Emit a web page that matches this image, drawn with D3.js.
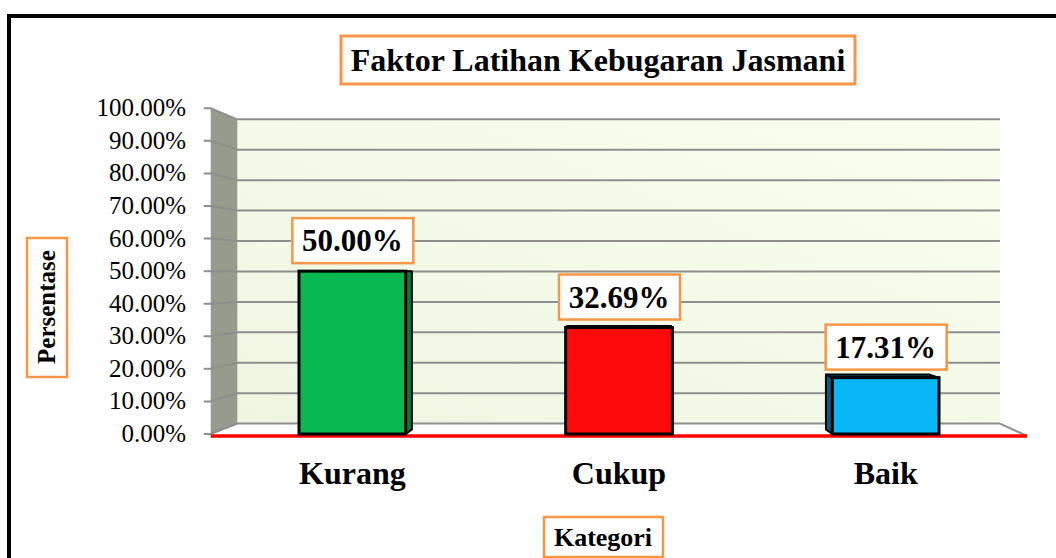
<!DOCTYPE html>
<html>
<head>
<meta charset="utf-8">
<script src="https://cdn.jsdelivr.net/npm/d3@7"></script>
<style>
	body { margin: 0; background: #fff; }
	svg text { font-family: "Times New Roman", "Liberation Serif", Times, serif; }
</style>
</head>
<body>
<div id="chart"></div>
<script>
// data
var kategori = ['Kurang', 'Cukup', 'Baik'];
var persen = [0.5, 0.3269, 0.1731];
var yTicks = [0, 0.1, 0.2, 0.3, 0.4, 0.5, 0.6, 0.7, 0.8, 0.9, 1.0];
var judul = 'Faktor Latihan Kebugaran Jasmani';
var sumbuY = 'Persentase';
var sumbuX = 'Kategori';

var barColor = ['#08b850', '#ff0a0a', '#0ab6f6'];
var sideColor = ['#0b7a38', '#a00000', '#0b5a7e'];
var orange = '#f79646';

var W = 1056, H = 558;
// bidang depan kotak 3D dan titik hilang
var front = { left: 210.7, right: 1027, top: 108.3, bottom: 434 };
var vp = { x: 616, y: 276 };
var shrink = 0.9343; // skala dinding belakang terhadap bidang depan

var svg = d3.select('#chart').append('svg')
	.attr('width', W)
	.attr('height', H);

var defs = svg.append('defs');
var grad = defs.append('linearGradient')
	.attr('id', 'wall')
	.attr('x1', '0%').attr('y1', '100%')
	.attr('x2', '100%').attr('y2', '0%');
grad.append('stop').attr('offset', '0%').attr('stop-color', '#eef5e1');
grad.append('stop').attr('offset', '100%').attr('stop-color', '#f9ffee');

// bingkai luar
svg.append('rect')
	.attr('x', 9).attr('y', 16)
	.attr('width', 1120).attr('height', 620)
	.attr('fill', 'none')
	.attr('stroke', '#000')
	.attr('stroke-width', 4);

var yScale = d3.scaleLinear()
	.domain([0, 1])
	.range([front.bottom, front.top]);

var xScale = d3.scaleBand()
	.domain(kategori)
	.range([219, 1019])
	.paddingInner(0.6)
	.paddingOuter(0.3);

// proyeksi titik bidang depan ke kedalaman z (0 = depan, 1 = dinding belakang)
function proj(x, y, z) {
	var k = 1 - (1 - shrink) * z;
	return [vp.x + (x - vp.x) * k, vp.y + (y - vp.y) * k];
}

function poly(pts) {
	return 'M' + pts.map(p => p[0] + ',' + p[1]).join('L') + 'Z';
}

var bTL = proj(front.left, front.top, 1),
	bTR = proj(front.right, front.top, 1),
	bBL = proj(front.left, front.bottom, 1),
	bBR = proj(front.right, front.bottom, 1);

// dinding belakang
svg.append('path')
	.attr('d', poly([bTL, bTR, bBR, bBL]))
	.attr('fill', 'url(#wall)');

// dinding kiri
svg.append('path')
	.attr('d', poly([[front.left, front.top], bTL, bBL, [front.left, front.bottom]]))
	.attr('fill', '#979b8d');

// lantai
svg.append('path')
	.attr('d', poly([[front.left, front.bottom], bBL, bBR, [front.right, front.bottom]]))
	.attr('fill', '#fff');

// garis grid
var grid = svg.append('g');
yTicks.forEach(t => {
	var yf = yScale(t);
	var b1 = proj(front.left, yf, 1);
	var b2 = proj(front.right, yf, 1);
	grid.append('path')
		.attr('d', 'M' + (front.left - 7) + ',' + yf + 'L' + front.left + ',' + yf +
			'L' + b1[0] + ',' + b1[1] + 'L' + b2[0] + ',' + b2[1])
		.attr('fill', 'none')
		.attr('stroke', '#8e8e8e')
		.attr('stroke-width', 2);
});
// tepi kanan lantai
grid.append('path')
	.attr('d', 'M' + bBR[0] + ',' + bBR[1] + 'L' + front.right + ',' + (front.bottom + 2))
	.attr('fill', 'none')
	.attr('stroke', '#8e8e8e')
	.attr('stroke-width', 2);

// garis dasar merah
svg.append('line')
	.attr('x1', front.left).attr('x2', front.right)
	.attr('y1', front.bottom + 2).attr('y2', front.bottom + 2)
	.attr('stroke', '#ff0000')
	.attr('stroke-width', 3.5);

// label sumbu y
svg.append('g')
	.selectAll('text')
	.data(yTicks)
	.enter()
	.append('text')
	.attr('x', 186)
	.attr('y', d => yScale(d) + 8)
	.attr('text-anchor', 'end')
	.style('font-size', '25px')
	.text(d => d3.format('.2%')(d));

// batang
var zBack = 0.45;
var bars = svg.append('g')
	.selectAll('g')
	.data(kategori)
	.enter()
	.append('g');

bars.each(function (d, i) {
	var g = d3.select(this);
	var x0 = xScale(d), x1 = xScale(d) + xScale.bandwidth();
	var yT = yScale(persen[i]), yB = yScale(0);
	var sideX = x0 < vp.x - 20 ? x1 : (x1 > vp.x + 60 ? x0 : null);
	if (sideX !== null) {
		g.append('path')
			.attr('d', poly([[sideX, yT], proj(sideX, yT, zBack), proj(sideX, yB, zBack), [sideX, yB]]))
			.attr('fill', sideColor[i])
			.attr('stroke', '#000')
			.attr('stroke-width', 2)
			.attr('stroke-linejoin', 'round');
	}
	if (yT > vp.y) {
		g.append('path')
			.attr('d', poly([[x0, yT], proj(x0, yT, zBack), proj(x1, yT, zBack), [x1, yT]]))
			.attr('fill', sideColor[i])
			.attr('stroke', '#000')
			.attr('stroke-width', 2)
			.attr('stroke-linejoin', 'round');
	}
	g.append('rect')
		.attr('x', x0)
		.attr('y', yT)
		.attr('width', xScale.bandwidth())
		.attr('height', yB - yT)
		.attr('fill', barColor[i])
		.attr('stroke', '#000')
		.attr('stroke-width', 3);
});

// label nilai
var labels = svg.append('g')
	.selectAll('g')
	.data(kategori)
	.enter()
	.append('g')
	.attr('transform', (d, i) => 'translate(' + (xScale(d) + xScale.bandwidth() / 2) + ',' + (yScale(persen[i]) - 8) + ')');
labels.append('rect')
	.attr('x', -60).attr('y', -45)
	.attr('width', 121).attr('height', 45)
	.attr('fill', '#fff')
	.attr('stroke', orange)
	.attr('stroke-width', 2.5);
labels.append('text')
	.attr('x', 0).attr('y', -12)
	.attr('text-anchor', 'middle')
	.style('font-size', '31px')
	.style('font-weight', 'bold')
	.text((d, i) => d3.format('.2%')(persen[i]));

// label kategori
svg.append('g')
	.selectAll('text')
	.data(kategori)
	.enter()
	.append('text')
	.attr('x', d => xScale(d) + xScale.bandwidth() / 2)
	.attr('y', 484)
	.attr('text-anchor', 'middle')
	.style('font-size', '32px')
	.style('font-weight', 'bold')
	.text(String);

// judul
svg.append('rect')
	.attr('x', 341).attr('y', 36)
	.attr('width', 514).attr('height', 48)
	.attr('fill', '#fff')
	.attr('stroke', orange)
	.attr('stroke-width', 3);
svg.append('text')
	.attr('x', 598).attr('y', 71)
	.attr('text-anchor', 'middle')
	.style('font-size', '32px')
	.style('font-weight', 'bold')
	.text(judul);

// judul sumbu y
svg.append('rect')
	.attr('x', 27).attr('y', 238)
	.attr('width', 40).attr('height', 139)
	.attr('fill', '#fff')
	.attr('stroke', orange)
	.attr('stroke-width', 2.5);
svg.append('text')
	.attr('transform', 'translate(55,307) rotate(-90)')
	.attr('text-anchor', 'middle')
	.style('font-size', '25px')
	.style('font-weight', 'bold')
	.text(sumbuY);

// judul sumbu x
svg.append('rect')
	.attr('x', 544).attr('y', 517)
	.attr('width', 119).attr('height', 40)
	.attr('fill', '#fff')
	.attr('stroke', orange)
	.attr('stroke-width', 2.5);
svg.append('text')
	.attr('x', 603).attr('y', 546)
	.attr('text-anchor', 'middle')
	.style('font-size', '26px')
	.style('font-weight', 'bold')
	.text(sumbuX);
</script>
</body>
</html>
